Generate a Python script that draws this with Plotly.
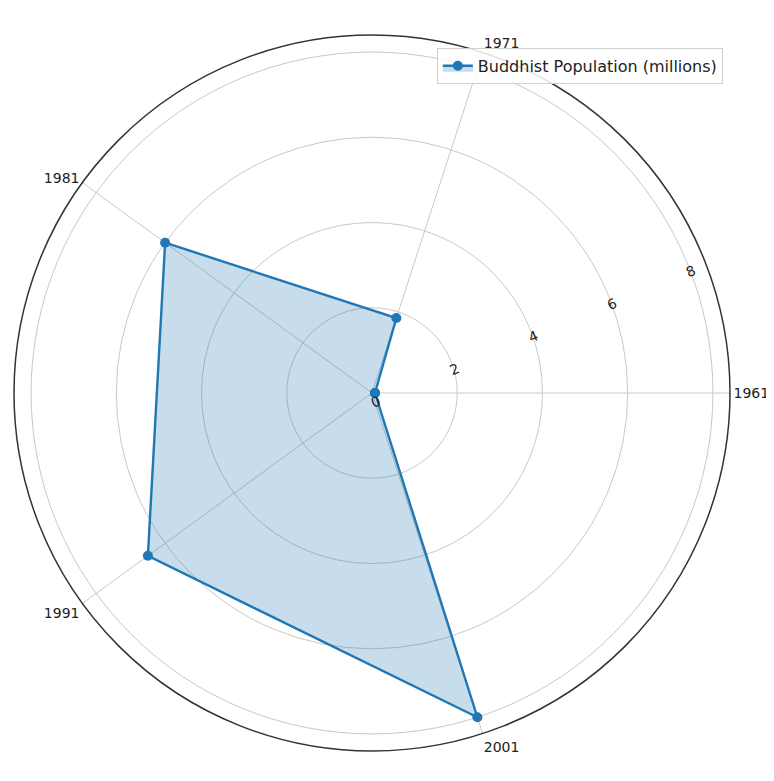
import plotly.graph_objects as go

categories = ["1961", "1971", "1981", "1991", "2001"]
values = [0.07, 1.85, 6.0, 6.5, 8.0]
series_name = "Buddhist Population (millions)"
radial_ticks = [0, 2, 4, 6, 8]

theta = categories + [categories[0]]
r = values + [values[0]]

fig = go.Figure()
fig.add_trace(go.Scatterpolar(
    r=r, theta=theta, mode="lines+markers", name=series_name,
    line=dict(color="#1f77b4", width=2.4),
    marker=dict(size=10, color="#1f77b4"),
    fill="toself", fillcolor="rgba(31,119,180,0.25)",
))

fig.update_layout(
    width=774, height=781,
    margin=dict(l=6, r=52, t=27, b=38),
    paper_bgcolor="white",
    font=dict(family="DejaVu Sans", size=14, color="#222"),
    polar=dict(
        bgcolor="white",
        domain=dict(x=[0, 1], y=[0, 1]),
        radialaxis=dict(
            range=[0, 8.4], tickvals=radial_ticks, angle=22.5, tickangle=0,
            showline=False, gridcolor="#c8c8c8", gridwidth=1,
            ticks="", tickfont=dict(size=14, color="#222"),
        ),
        angularaxis=dict(
            direction="counterclockwise", rotation=0,
            showline=True, linecolor="#333", linewidth=1.5,
            gridcolor="#c8c8c8", gridwidth=1, ticks="",
            tickfont=dict(size=14, color="#222"),
        ),
    ),
    showlegend=True,
    legend=dict(
        x=0.99, y=0.982, xanchor="right", yanchor="top",
        bgcolor="rgba(255,255,255,0.85)", bordercolor="#d0d0d0", borderwidth=1,
        font=dict(size=16),
    ),
)

fig.write_html("out.html")
